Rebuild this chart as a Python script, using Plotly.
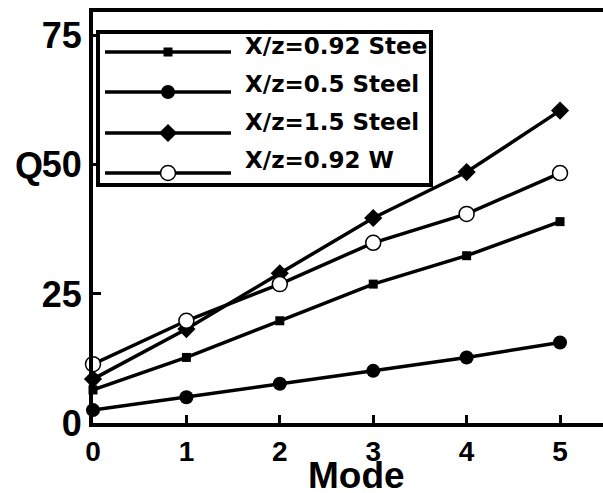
import plotly.graph_objects as go

# Mode number and Q values for each configuration
modes = [0, 1, 2, 3, 4, 5]
q_092_steel = [6.4, 12.7, 19.8, 26.9, 32.4, 39.0]
q_05_steel = [2.5, 5.0, 7.6, 10.1, 12.7, 15.6]
q_15_steel = [8.5, 18.2, 29.0, 39.7, 48.6, 60.5]
q_092_w = [11.4, 19.8, 26.9, 34.9, 40.5, 48.4]

series_names = ["X/z=0.92 Steel", "X/z=0.5 Steel", "X/z=1.5 Steel", "X/z=0.92 W"]
series_values = [q_092_steel, q_05_steel, q_15_steel, q_092_w]

x_tick_vals = [0, 1, 2, 3, 4, 5]
y_tick_vals = [0, 25, 50, 75]
y_tick_text = ["0", "25", "50", "75"]

FONT = "Liberation Sans, Arial, Helvetica, sans-serif"
LEG_FONT = "DejaVu Sans, Liberation Sans, sans-serif"

markers = [
    dict(symbol="square", size=9, color="black"),
    dict(symbol="circle", size=14, color="black"),
    dict(symbol="diamond", size=14, color="black"),
    dict(symbol="circle", size=15, color="white", line=dict(color="black", width=1.5)),
]

fig = go.Figure()

for name, vals, mk in zip(series_names, series_values, markers):
    fig.add_trace(go.Scatter(
        x=modes, y=vals, name=name, mode="lines+markers",
        line=dict(color="black", width=3.5), marker=mk,
        cliponaxis=False, showlegend=False, xaxis="x", yaxis="y",
    ))

# Hand-built legend in its own small subplot (pixel-like coordinates)
row_line_y = [52, 92, 133, 173]
row_text_y = [48.5, 86, 124, 162]
for name, mk, ly, ty in zip(series_names, markers, row_line_y, row_text_y):
    fig.add_trace(go.Scatter(
        x=[105, 231], y=[ly, ly], mode="lines",
        line=dict(color="black", width=3.5), hoverinfo="skip",
        showlegend=False, xaxis="x2", yaxis="y2",
    ))
    fig.add_trace(go.Scatter(
        x=[168], y=[ly], mode="markers", marker=mk, hoverinfo="skip",
        showlegend=False, xaxis="x2", yaxis="y2", cliponaxis=False,
    ))
    fig.add_trace(go.Scatter(
        x=[245], y=[ty], mode="text", text=[name], textposition="middle right",
        textfont=dict(family=LEG_FONT, size=23, color="black", weight="bold"),
        hoverinfo="skip", showlegend=False, xaxis="x2", yaxis="y2", cliponaxis=True,
    ))

W, H = 603, 493
ML, MR, MT, MB = 93, 0, 12, 70
pw, ph = W - ML - MR, H - MT - MB
box_l, box_r, box_t, box_b = 100, 429, 34, 183

fig.update_layout(
    width=W, height=H,
    margin=dict(l=ML, r=MR, t=MT, b=MB),
    paper_bgcolor="white", plot_bgcolor="white",
    showlegend=False,
    xaxis=dict(
        range=[0, 5.46], tickvals=x_tick_vals, ticks="inside", ticklen=8, tickwidth=3,
        tickcolor="black", showline=True, linecolor="black", linewidth=4, mirror=True,
        showgrid=False, zeroline=False,
        tickfont=dict(family=FONT, size=28, color="black", weight="bold"),
        ticklabelstandoff=0,
    ),
    yaxis=dict(
        range=[0, 79.6], tickvals=y_tick_vals, ticktext=y_tick_text, ticks="inside",
        ticklen=8, tickwidth=3, tickcolor="black", showline=True, linecolor="black",
        linewidth=4, showgrid=False, zeroline=False,
        tickfont=dict(family=FONT, size=36, color="black", weight="bold"),
        ticklabelstandoff=0,
    ),
    xaxis2=dict(
        domain=[(box_l - ML) / pw, (box_r - ML) / pw], range=[box_l, box_r],
        anchor="y2", showline=True, mirror=True, linecolor="black", linewidth=3.5,
        showticklabels=False, ticks="", showgrid=False, zeroline=False,
    ),
    yaxis2=dict(
        domain=[(H - MB - box_b) / ph, (H - MB - box_t) / ph], range=[box_b, box_t],
        anchor="x2", showline=True, mirror=True, linecolor="black", linewidth=3.5,
        showticklabels=False, ticks="", showgrid=False, zeroline=False,
    ),
    annotations=[
        dict(text="Mode", xref="paper", yref="paper", x=(356 - ML) / pw, y=(H - MB - 475) / ph,
             showarrow=False, xanchor="center", yanchor="middle",
             font=dict(family=FONT, size=37, color="black", weight="bold")),
        dict(text="Q", xref="paper", yref="paper", x=(45 - ML) / pw, y=(H - MB - 165) / ph,
             showarrow=False, xanchor="right", yanchor="middle",
             font=dict(family=FONT, size=36, color="black", weight="bold")),
    ],
)

fig.write_html("out.html")
